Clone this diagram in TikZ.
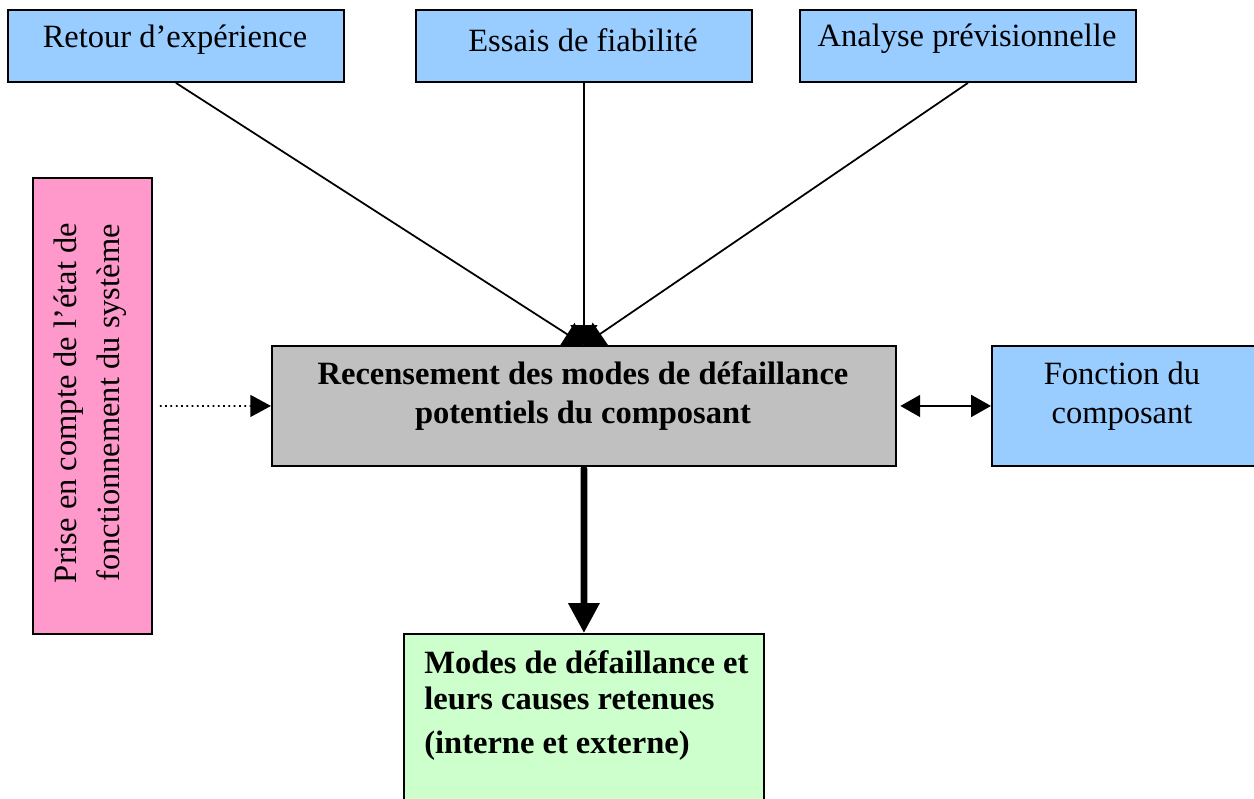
\documentclass[tikz,border=0pt]{standalone}
\usepackage{fontspec}
\setmainfont{Liberation Serif}
\usetikzlibrary{arrows.meta}

\definecolor{boxblue}{HTML}{99CCFF}
\definecolor{boxpink}{HTML}{FF99CC}
\definecolor{boxgray}{HTML}{C0C0C0}
\definecolor{boxgreen}{HTML}{CCFFCC}

\tikzset{
  box/.style={draw=black, line width=1.1pt, rectangle, inner sep=0pt, anchor=north west},
  lbl/.style={inner sep=0pt, anchor=base, font=\fontsize{18.5}{22}\selectfont},
  blbl/.style={lbl, font=\fontsize{18.5}{22}\selectfont\bfseries},
  feed/.style={line width=1pt, -{Triangle[length=11.3pt, width=15.3pt]}},
  side/.style={line width=1pt, {Triangle[length=11.3pt, width=12.5pt]}-{Triangle[length=11.3pt, width=12.5pt]}},
  hint/.style={line width=1pt, dotted, -{Triangle[length=11.8pt, width=12.5pt]}},
  result/.style={line width=3.8pt, line cap=round, -{Triangle[length=17pt, width=17pt]}}
}

\begin{document}
\begin{tikzpicture}[x=0.02cm, y=-0.02cm]
  \clip (0,0) rectangle (1254,798);
  \fill[white] (0,0) rectangle (1254,798);

  % sources of information
  \node[box, fill=boxblue, minimum width=6.72cm, minimum height=1.44cm] (retour) at (7,9) {};
  \node[box, fill=boxblue, minimum width=6.72cm, minimum height=1.44cm] (essais) at (415,9) {};
  \node[box, fill=boxblue, minimum width=6.72cm, minimum height=1.44cm] (analyse) at (799,9) {};
  \node[lbl] (retourtxt) at (175,47) {Retour d’expérience};
  \node[lbl] (essaistxt) at (583,51) {Essais de fiabilité};
  \node[lbl] (analysetxt) at (967,46) {Analyse prévisionnelle};

  % operating state of the system
  \node[box, fill=boxpink, minimum width=2.38cm, minimum height=9.12cm] (etat) at (32,177) {};
  \node[lbl, rotate=90] (etattxta) at (76,403) {Prise en compte de l’état de};
  \node[lbl, rotate=90] (etattxtb) at (119,403) {fonctionnement du système};

  % central step
  \node[box, fill=boxgray, minimum width=12.48cm, minimum height=2.40cm] (recens) at (271,345) {};
  \node[blbl] (recenstxta) at (583,384) {Recensement des modes de défaillance};
  \node[blbl] (recenstxtb) at (583,423) {potentiels du composant};

  % component function
  \node[box, fill=boxblue, minimum width=5.4cm, minimum height=2.40cm] (fonction) at (991,345) {};
  \node[lbl] (fonctiontxta) at (1122,384) {Fonction du};
  \node[lbl] (fonctiontxtb) at (1122,423) {composant};

  % result
  \node[box, fill=boxgreen, minimum width=7.2cm, minimum height=4.2cm] (modes) at (403,633) {};
  \node[blbl, anchor=base west] (modestxta) at (424,673) {Modes de défaillance et};
  \node[blbl, anchor=base west] (modestxtb) at (424,709) {leurs causes retenues};
  \node[blbl, anchor=base west] (modestxtc) at (424,753) {(interne et externe)};

  % connectors
  \draw[feed] (retour.south) -- (recens.north);
  \draw[feed] (essais.south) -- (recens.north);
  \draw[feed] (analyse.south) -- (recens.north);
  \draw[hint, shorten <=4pt] (etat.east) -- (recens.west);
  \draw[side, shorten <=2pt] (recens.east) -- (fonction.west);
  \draw[result] ([yshift=-1pt]recens.south) -- (modes.north);
\end{tikzpicture}
\end{document}
